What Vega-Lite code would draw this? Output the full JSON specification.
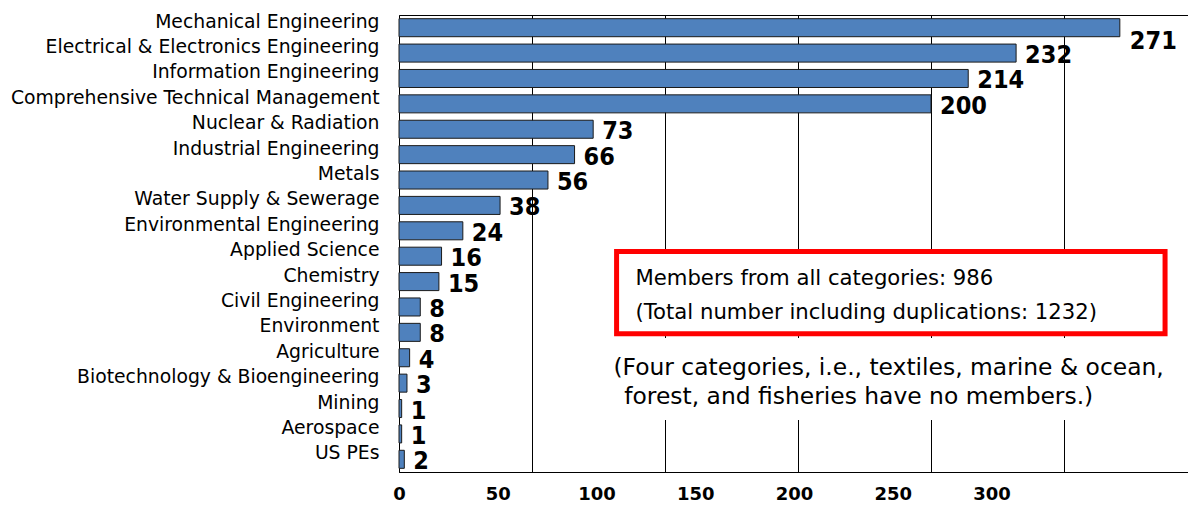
{
  "$schema": "https://vega.github.io/schema/vega-lite/v6.json",
  "width": 790,
  "height": 457,
  "autosize": {"type": "none"},
  "padding": {"left": 399, "top": 15, "right": 0, "bottom": 33},
  "background": "#ffffff",
  "config": {"view": {"stroke": "#000000", "strokeWidth": 1}, "font": "DejaVu Sans"},
  "datasets": {
    "members": [
      {"category": "Mechanical Engineering", "count": 271},
      {"category": "Electrical & Electronics Engineering", "count": 232},
      {"category": "Information Engineering", "count": 214},
      {"category": "Comprehensive Technical Management", "count": 200},
      {"category": "Nuclear & Radiation", "count": 73},
      {"category": "Industrial Engineering", "count": 66},
      {"category": "Metals", "count": 56},
      {"category": "Water Supply & Sewerage", "count": 38},
      {"category": "Environmental Engineering", "count": 24},
      {"category": "Applied Science", "count": 16},
      {"category": "Chemistry", "count": 15},
      {"category": "Civil Engineering", "count": 8},
      {"category": "Environment", "count": 8},
      {"category": "Agriculture", "count": 4},
      {"category": "Biotechnology & Bioengineering", "count": 3},
      {"category": "Mining", "count": 1},
      {"category": "Aerospace", "count": 1},
      {"category": "US PEs", "count": 2}
    ],
    "note": [{"id": 1}]
  },
  "layer": [
    {
      "data": {"name": "members"},
      "encoding": {
        "y": {
          "field": "category",
          "type": "nominal",
          "sort": null,
          "scale": {"type": "band", "paddingInner": 0.29, "paddingOuter": 0.145},
          "axis": {
            "title": null,
            "labelFont": "DejaVu Sans",
            "labelFontSize": 18.8,
            "labelColor": "#000000",
            "labelPadding": 20,
            "labelOffset": -6,
            "labelLimit": 420,
            "domainColor": "#000000",
            "ticks": false,
            "grid": false
          }
        },
        "x": {
          "field": "count",
          "type": "quantitative",
          "scale": {"domain": [0, 297], "nice": false, "zero": true},
          "axis": {
            "title": null,
            "orient": "bottom",
            "values": [0, 37.125, 74.25, 111.375, 148.5, 185.625, 222.75],
            "labelExpr": "round(datum.value / 0.7425)",
            "grid": false,
            "ticks": false,
            "domainColor": "#000000",
            "labelFont": "DejaVu Sans",
            "labelFontWeight": "bold",
            "labelFontSize": 18,
            "labelColor": "#000000",
            "labelPadding": 13,
            "labelFlush": false,
            "labelOverlap": false
          }
        }
      },
      "layer": [
        {"mark": {"type": "bar", "fill": "#4F81BD", "stroke": "#1a1a1a", "strokeWidth": 1}},
        {
          "transform": [{"filter": "datum.count < 250"}],
          "mark": {"type": "text", "align": "left", "baseline": "middle", "dx": 9, "dy": 2, "font": "DejaVu Sans Condensed, Liberation Sans Narrow, Liberation Sans", "fontWeight": "bold", "fontSize": 25, "fill": "#000000"},
          "encoding": {"text": {"field": "count", "type": "quantitative"}}
        },
        {
          "transform": [{"filter": "datum.count >= 250"}],
          "mark": {"type": "text", "align": "left", "baseline": "middle", "dx": 10, "dy": 13, "font": "DejaVu Sans Condensed, Liberation Sans Narrow, Liberation Sans", "fontWeight": "bold", "fontSize": 25, "fill": "#000000"},
          "encoding": {"text": {"field": "count", "type": "quantitative"}}
        }
      ]
    },
    {
      "data": {"name": "note"},
      "encoding": {
        "x": {
          "datum": 0,
          "type": "quantitative",
          "axis": {
            "title": null,
            "orient": "top",
            "values": [50, 100, 150, 200, 250],
            "grid": true,
            "gridColor": "#000000",
            "gridWidth": 1,
            "gridOpacity": 1,
            "labels": false,
            "ticks": false,
            "domain": false
          }
        }
      },
      "layer": [
        {
          "mark": {"type": "rect", "fill": "#ffffff", "strokeWidth": 0},
          "encoding": {
            "x": {"datum": 78, "type": "quantitative"},
            "x2": {"datum": 297},
            "y": {"datum": 12.72, "type": "quantitative", "scale": {"domain": [0, 18], "reverse": true, "nice": false, "zero": false}, "axis": null},
            "y2": {"datum": 15.95}
          }
        },
        {
          "mark": {"type": "rect", "fill": "#ffffff", "stroke": "#FF0000", "strokeWidth": 5},
          "encoding": {
            "x": {"datum": 81.8, "type": "quantitative"},
            "x2": {"datum": 288},
            "y": {"datum": 9.32, "type": "quantitative"},
            "y2": {"datum": 12.55}
          }
        },
        {
          "mark": {"type": "text", "text": "Members from all categories: 986", "align": "left", "baseline": "middle", "fontSize": 21.2, "font": "DejaVu Sans", "fill": "#000000"},
          "encoding": {
            "x": {"datum": 88.9, "type": "quantitative"},
            "y": {"datum": 10.38, "type": "quantitative"}
          }
        },
        {
          "mark": {"type": "text", "text": "(Total number including duplications: 1232)", "align": "left", "baseline": "middle", "fontSize": 21.2, "font": "DejaVu Sans", "fill": "#000000"},
          "encoding": {
            "x": {"datum": 88.9, "type": "quantitative"},
            "y": {"datum": 11.74, "type": "quantitative"}
          }
        },
        {
          "mark": {"type": "text", "text": "(Four categories, i.e., textiles, marine & ocean,", "align": "left", "baseline": "middle", "fontSize": 23.4, "font": "DejaVu Sans", "fill": "#000000"},
          "encoding": {
            "x": {"datum": 80.6, "type": "quantitative"},
            "y": {"datum": 13.9, "type": "quantitative"}
          }
        },
        {
          "mark": {"type": "text", "text": "forest, and fisheries have no members.)", "align": "left", "baseline": "middle", "fontSize": 23.4, "font": "DejaVu Sans", "fill": "#000000"},
          "encoding": {
            "x": {"datum": 84.7, "type": "quantitative"},
            "y": {"datum": 15.05, "type": "quantitative"}
          }
        }
      ]
    }
  ],
  "resolve": {"scale": {"y": "independent"}, "axis": {"x": "independent", "y": "independent"}}
}
